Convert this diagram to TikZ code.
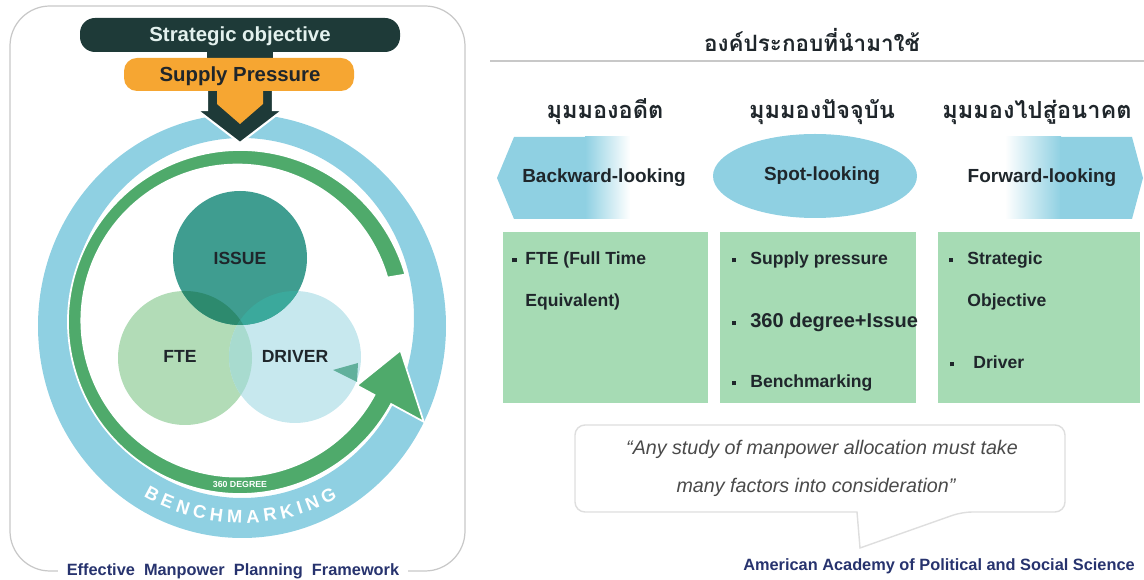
\documentclass[tikz,border=0pt]{standalone}
\usepackage{fontspec}
\setmainfont{Liberation Sans}
\newfontfamily\thaifont[Script=Thai]{Loma}
\usepackage{xcolor}
\definecolor{darkslate}{HTML}{1E3A38}
\definecolor{barink}{HTML}{E3F1EE}
\definecolor{supplyor}{HTML}{F6A632}
\definecolor{ringblue}{HTML}{8FD0E2}
\definecolor{arcgreen}{HTML}{4FAA6B}
\definecolor{issuecol}{HTML}{3F9D90}
\definecolor{ftecol}{HTML}{B2DCB7}
\definecolor{drivercol}{HTML}{C7E8EE}
\definecolor{ovif}{HTML}{2D8A6E}
\definecolor{ovid}{HTML}{3BA99C}
\definecolor{ovfd}{HTML}{A8DBCF}
\definecolor{ovall}{HTML}{33957F}
\definecolor{boxgreen}{HTML}{A6DBB4}
\definecolor{inkdark}{HTML}{1F262B}
\definecolor{navyink}{HTML}{27336E}
\definecolor{quoteink}{HTML}{4A4A4A}
\definecolor{rulegray}{HTML}{C8C8C8}
\usepackage{tikz}
\usetikzlibrary{positioning, decorations.text}
\newcommand\sqbul[1][5pt]{\llap{\rule[0.28ex]{2.4pt}{2.4pt}\hspace{#1}}}
\newcommand\benchfont{\fontsize{10.4}{11}\selectfont\bfseries\color{white}}
\tikzset{
  barlbl/.style  ={font=\fontsize{11.6}{12}\selectfont\bfseries, inner sep=0pt},
  vlbl/.style    ={font=\fontsize{10}{10}\selectfont\bfseries, text=inkdark, inner sep=0pt},
  thaihdr/.style ={font=\thaifont\fontsize{13.4}{15}\selectfont\bfseries, text=inkdark, inner sep=0pt},
  looklbl/.style ={font=\fontsize{10.8}{11}\selectfont\bfseries, text=inkdark, inner sep=0pt},
  itemtxt/.style ={anchor=base west, font=\fontsize{10}{11}\selectfont\bfseries, text=inkdark, inner sep=0pt},
  quotetxt/.style={font=\fontsize{11.2}{12}\selectfont\itshape, text=quoteink, inner sep=0pt},
  credit/.style  ={font=\fontsize{9.3}{10}\selectfont\bfseries, text=navyink, inner sep=0pt},
  gbox/.style    ={fill=boxgreen, draw=none},
}

\begin{document}
\begin{tikzpicture}[x=0.02cm, y=-0.02cm]
  \useasboundingbox (0,0) rectangle (1144,580);
  % left panel frame
  \draw[rulegray, line width=0.7pt, rounded corners=0.8cm] (10,6) rectangle (465,571);
  % rings
  \coordinate (cR)  at (242,326);
  \coordinate (cRi) at (242,318);
  \coordinate (cA)  at (240,322);
  \fill[ringblue, even odd rule] (cR) ellipse[x radius=204, y radius=212]
                                 (cRi) ellipse[x radius=172, y radius=180];
  \path[decorate, decoration={text along path, text align=fit to path,
        text={|\benchfont|BENCHMARKING}}]
    ([shift={(120:197)}]cR) arc[start angle=120, end angle=61, radius=197];
  \fill[arcgreen, draw=white, line width=1pt]
    ([shift={(-16:172)}]cA) arc[start angle=-16, end angle=-331.5, radius=172]
    -- ([shift={(-331.5:209)}]cA)
    -- ([shift={(-350:163)}]cA)
    -- ([shift={(-331.5:133)}]cA)
    -- ([shift={(-331.5:153)}]cA)
    arc[start angle=-331.5, end angle=-16, radius=156] -- cycle;
  \node[font=\fontsize{5}{5}\selectfont\bfseries, text=white, inner sep=0pt] (deg) at (240,484) {360 DEGREE};
  % venn
  \coordinate (cI) at (240,258);
  \coordinate (cF) at (185,358);
  \coordinate (cD) at (295,357);
  \fill[ftecol]    (cF) circle[radius=67];
  \fill[drivercol] (cD) circle[radius=66];
  \begin{scope}
    \clip (cF) circle[radius=67];
    \fill[ovfd] (cD) circle[radius=66];
  \end{scope}
  \fill[issuecol] (cI) circle[radius=67];
  \begin{scope}
    \clip (cI) circle[radius=67];
    \fill[ovif] (cF) circle[radius=67];
    \fill[ovid] (cD) circle[radius=66];
    \clip (cF) circle[radius=67];
    \fill[ovall] (cD) circle[radius=66];
  \end{scope}
  \fill[issuecol!70!ftecol] (333,370) -- (358,363) -- (357,382) -- cycle;
  \node[vlbl] (issue)  at (cI) {ISSUE};
  \node[vlbl] (fte)    at (180,356) {FTE};
  \node[vlbl] (driver) at (295,356) {DRIVER};
  % top bars and chevron
  \fill[darkslate, draw=white, line width=1.2pt]
    (207,88) -- (273,88) -- (273,110) -- (283,110) -- (240,143) -- (197,110) -- (207,110) -- cycle;
  \fill[darkslate] (207,48) rectangle (273,62);
  \fill[darkslate, rounded corners=0.3cm] (80,18) rectangle (400,52);
  \fill[supplyor, rounded corners=0.26cm] (124,58) rectangle (354,91);
  \fill[supplyor] (217,86) -- (263,86) -- (263,104) -- (240,124) -- (217,104) -- cycle;
  \node[barlbl, text=barink] (strat) at (240,36) {Strategic objective};
  \node[barlbl, text=inkdark] (supply) at (240,76) {Supply Pressure};
  \node[credit, fill=white, inner xsep=5pt, inner ysep=2pt] (frame) at (233,571) {Effective\ \ Manpower\ \ Planning\ \ Framework};
  % right panel header
  \node[thaihdr, font=\thaifont\fontsize{12.8}{15}\selectfont\bfseries] (title) at (812,40) {องค์ประกอบที่นำมาใช้};
  \draw[rulegray, line width=0.6pt] (490,61) -- (1144,61);
  \node[thaihdr] (past) at (605,112) {มุมมองอดีต};
  \node[thaihdr] (now)  at (822,112) {มุมมองปัจจุบัน};
  \node[thaihdr] (next) at (1037,112) {มุมมองไปสู่อนาคต};
  % looking shapes
  \fill[ringblue] (497,178) -- (514,137) -- (586,137) -- (586,219) -- (514,219) -- cycle;
  \shade[left color=ringblue, right color=white] (585,137) rectangle (630,219);
  \fill[ringblue] (815,176) ellipse[x radius=102, y radius=42];
  \shade[left color=white, right color=ringblue] (1005,137) rectangle (1061,219);
  \fill[ringblue] (1060,137) -- (1132,137) -- (1143,178) -- (1132,219) -- (1060,219) -- cycle;
  \node[looklbl] (back) at (604,178) {Backward-looking};
  \node[looklbl] (spot) at (822,176) {Spot-looking};
  \node[looklbl] (fwd)  at (1042,178) {Forward-looking};
  % item boxes
  \fill[gbox] (503,232) rectangle (708,403);
  \fill[gbox] (720,232) rectangle (916,403);
  \fill[gbox] (938,232) rectangle (1140,403);
  \node[itemtxt] (fteitem) at (525,265) {\sqbul FTE (Full Time};
  \node[itemtxt] (fteeq)   at (525,307) {Equivalent)};
  \node[itemtxt] (supitem) at (750,265) {\sqbul[8pt]Supply pressure};
  \node[itemtxt, font=\fontsize{11.4}{12}\selectfont\bfseries] (degitem) at (750,328) {\sqbul[8pt]360 degree+Issue};
  \node[itemtxt] (benitem) at (750,388) {\sqbul[8pt]Benchmarking};
  \node[itemtxt] (stritem) at (967,265) {\sqbul[8pt]Strategic};
  \node[itemtxt] (strobj)  at (967,307) {Objective};
  \node[itemtxt] (dritem)  at (973,369) {\sqbul[11pt]Driver};
  % quote bubble
  \draw[rulegray!60, line width=0.8pt, fill=white, rounded corners=0.2cm]
    (857,512) -- (575,512) -- (575,425) -- (1065,425) -- (1065,512) -- (962,512)
    [sharp corners] -- (860,548) -- cycle;
  \node[quotetxt] (q1) at (822,449) {“Any study of manpower allocation must take};
  \node[quotetxt] (q2) at (816,487) {many factors into consideration”};
  \node[credit] (src) at (939,566) {American Academy of Political and Social Science};
\end{tikzpicture}
\end{document}
